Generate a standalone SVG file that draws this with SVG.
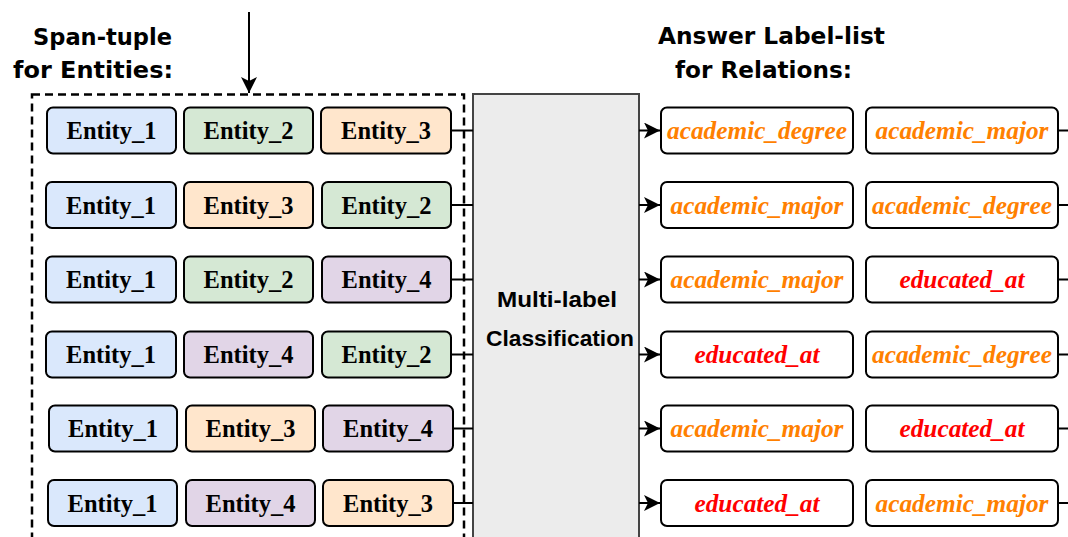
<svg xmlns="http://www.w3.org/2000/svg" width="1068" height="537" viewBox="0 0 1068 537">
  <defs>
    <style>
      .title { font-family: "Comic Sans MS", "DejaVu Sans", sans-serif; font-weight: bold; font-size: 23px; fill: #000; }
      .ent rect { stroke: #000; stroke-width: 2; }
      .ent text { font-family: "Liberation Serif", "Times New Roman", serif; font-weight: bold; font-size: 24.5px; fill: #000; text-anchor: middle; }
      .e1 { fill: #dae8fc; }
      .e2 { fill: #d5e8d4; }
      .e3 { fill: #ffe6cc; }
      .e4 { fill: #e1d5e7; }
      .ans rect { fill: #fff; stroke: #000; stroke-width: 2; }
      .ans text { font-family: "Liberation Serif", "Times New Roman", serif; font-weight: bold; font-style: italic; font-size: 25.3px; text-anchor: middle; }
      .or { fill: #ff8000; }
      .rd { fill: #ff0000; }
      .conn line { stroke: #000; stroke-width: 2; fill: none; }
      .head { fill: #000; stroke: none; }
      .mid { font-family: "Liberation Sans", Arial, sans-serif; font-weight: bold; font-size: 22px; fill: #000; text-anchor: middle; }
    </style>
    <marker id="arrow" viewBox="0 0 16 16" refX="16" refY="8" markerWidth="16" markerHeight="16" markerUnits="userSpaceOnUse" orient="auto">
      <path class="head" d="M16 8 L0 0 L4 8 L0 16 Z"/>
    </marker>
  </defs>

  <rect width="1068" height="537" fill="#fff"/>

  <!-- section titles -->
  <g id="title-left">
    <text class="title" x="33" y="45" textLength="139" lengthAdjust="spacingAndGlyphs">Span-tuple</text>
    <text class="title" x="13" y="78" textLength="160" lengthAdjust="spacingAndGlyphs">for Entities:</text>
  </g>
  <g id="title-right">
    <text class="title" x="658" y="44" textLength="227" lengthAdjust="spacingAndGlyphs">Answer Label-list</text>
    <text class="title" x="675" y="78" textLength="177" lengthAdjust="spacingAndGlyphs">for Relations:</text>
  </g>

  <!-- dashed container for span tuples -->
  <g id="span-group">
    <rect x="32" y="94.5" width="432" height="480" fill="none" stroke="#000" stroke-width="2.5" stroke-dasharray="8 5"/>
  </g>

  <!-- classifier block -->
  <g id="classifier">
    <rect x="473" y="94" width="166" height="480" fill="#ececec" stroke="#444" stroke-width="2"/>
    <text class="mid" x="557" y="307" textLength="120" lengthAdjust="spacingAndGlyphs">Multi-label</text>
    <text class="mid" x="560" y="346" textLength="148" lengthAdjust="spacingAndGlyphs">Classification</text>
  </g>

  <!-- connectors -->
  <g id="connectors" class="conn">
    <line x1="249" y1="12" x2="249" y2="93" marker-end="url(#arrow)"/>
    <line x1="451" y1="130.5" x2="473" y2="130.5"/>
    <line x1="451" y1="205" x2="473" y2="205"/>
    <line x1="451" y1="279.5" x2="473" y2="279.5"/>
    <line x1="451" y1="354.5" x2="473" y2="354.5"/>
    <line x1="453" y1="428.5" x2="473" y2="428.5"/>
    <line x1="453" y1="503" x2="473" y2="503"/>
    <line x1="639" y1="130.5" x2="660" y2="130.5" marker-end="url(#arrow)"/>
    <line x1="639" y1="205" x2="660" y2="205" marker-end="url(#arrow)"/>
    <line x1="639" y1="279.5" x2="660" y2="279.5" marker-end="url(#arrow)"/>
    <line x1="639" y1="354.5" x2="660" y2="354.5" marker-end="url(#arrow)"/>
    <line x1="639" y1="428.5" x2="660" y2="428.5" marker-end="url(#arrow)"/>
    <line x1="639" y1="503" x2="660" y2="503" marker-end="url(#arrow)"/>
    <line x1="1058" y1="130.5" x2="1070" y2="130.5"/>
    <line x1="1058" y1="205" x2="1070" y2="205"/>
    <line x1="1058" y1="279.5" x2="1070" y2="279.5"/>
    <line x1="1058" y1="354.5" x2="1070" y2="354.5"/>
    <line x1="1058" y1="428.5" x2="1070" y2="428.5"/>
    <line x1="1058" y1="503" x2="1070" y2="503"/>
  </g>

  <!-- span tuples, one row per tuple -->
  <g id="tuple-1" class="ent">
    <rect class="e1" x="47" y="107.5" width="129" height="46" rx="6"/><text x="111.5" y="139">Entity_1</text>
    <rect class="e2" x="184" y="107.5" width="129" height="46" rx="6"/><text x="248.5" y="139">Entity_2</text>
    <rect class="e3" x="321" y="107.5" width="130" height="46" rx="6"/><text x="386" y="139">Entity_3</text>
  </g>
  <g id="tuple-2" class="ent">
    <rect class="e1" x="46" y="182" width="130" height="46" rx="6"/><text x="111" y="213.5">Entity_1</text>
    <rect class="e3" x="184" y="182" width="129" height="46" rx="6"/><text x="248.5" y="213.5">Entity_3</text>
    <rect class="e2" x="322" y="182" width="129" height="46" rx="6"/><text x="386.5" y="213.5">Entity_2</text>
  </g>
  <g id="tuple-3" class="ent">
    <rect class="e1" x="46" y="256.5" width="130" height="46" rx="6"/><text x="111" y="288">Entity_1</text>
    <rect class="e2" x="184" y="256.5" width="129" height="46" rx="6"/><text x="248.5" y="288">Entity_2</text>
    <rect class="e4" x="322" y="256.5" width="129" height="46" rx="6"/><text x="386.5" y="288">Entity_4</text>
  </g>
  <g id="tuple-4" class="ent">
    <rect class="e1" x="46" y="331.5" width="130" height="46" rx="6"/><text x="111" y="363">Entity_1</text>
    <rect class="e4" x="184" y="331.5" width="129" height="46" rx="6"/><text x="248.5" y="363">Entity_4</text>
    <rect class="e2" x="322" y="331.5" width="129" height="46" rx="6"/><text x="386.5" y="363">Entity_2</text>
  </g>
  <g id="tuple-5" class="ent">
    <rect class="e1" x="49" y="405.5" width="128" height="46" rx="6"/><text x="113" y="437">Entity_1</text>
    <rect class="e3" x="186" y="405.5" width="129" height="46" rx="6"/><text x="250.5" y="437">Entity_3</text>
    <rect class="e4" x="323" y="405.5" width="130" height="46" rx="6"/><text x="388" y="437">Entity_4</text>
  </g>
  <g id="tuple-6" class="ent">
    <rect class="e1" x="48" y="480" width="129" height="46" rx="6"/><text x="112.5" y="511.5">Entity_1</text>
    <rect class="e4" x="186" y="480" width="129" height="46" rx="6"/><text x="250.5" y="511.5">Entity_4</text>
    <rect class="e3" x="323" y="480" width="130" height="46" rx="6"/><text x="388" y="511.5">Entity_3</text>
  </g>

  <!-- answer label lists -->
  <g id="answer-1" class="ans">
    <rect x="661" y="107.5" width="192" height="46" rx="6"/><text class="or" x="757" y="139">academic_degree</text>
    <rect x="866" y="107.5" width="192" height="46" rx="6"/><text class="or" x="962" y="139">academic_major</text>
  </g>
  <g id="answer-2" class="ans">
    <rect x="661" y="182" width="192" height="46" rx="6"/><text class="or" x="757" y="213.5">academic_major</text>
    <rect x="866" y="182" width="192" height="46" rx="6"/><text class="or" x="962" y="213.5">academic_degree</text>
  </g>
  <g id="answer-3" class="ans">
    <rect x="661" y="256.5" width="192" height="46" rx="6"/><text class="or" x="757" y="288">academic_major</text>
    <rect x="866" y="256.5" width="192" height="46" rx="6"/><text class="rd" x="962" y="288">educated_at</text>
  </g>
  <g id="answer-4" class="ans">
    <rect x="661" y="331.5" width="192" height="46" rx="6"/><text class="rd" x="757" y="363">educated_at</text>
    <rect x="866" y="331.5" width="192" height="46" rx="6"/><text class="or" x="962" y="363">academic_degree</text>
  </g>
  <g id="answer-5" class="ans">
    <rect x="661" y="405.5" width="192" height="46" rx="6"/><text class="or" x="757" y="437">academic_major</text>
    <rect x="866" y="405.5" width="192" height="46" rx="6"/><text class="rd" x="962" y="437">educated_at</text>
  </g>
  <g id="answer-6" class="ans">
    <rect x="661" y="480" width="192" height="46" rx="6"/><text class="rd" x="757" y="511.5">educated_at</text>
    <rect x="866" y="480" width="192" height="46" rx="6"/><text class="or" x="962" y="511.5">academic_major</text>
  </g>
</svg>
